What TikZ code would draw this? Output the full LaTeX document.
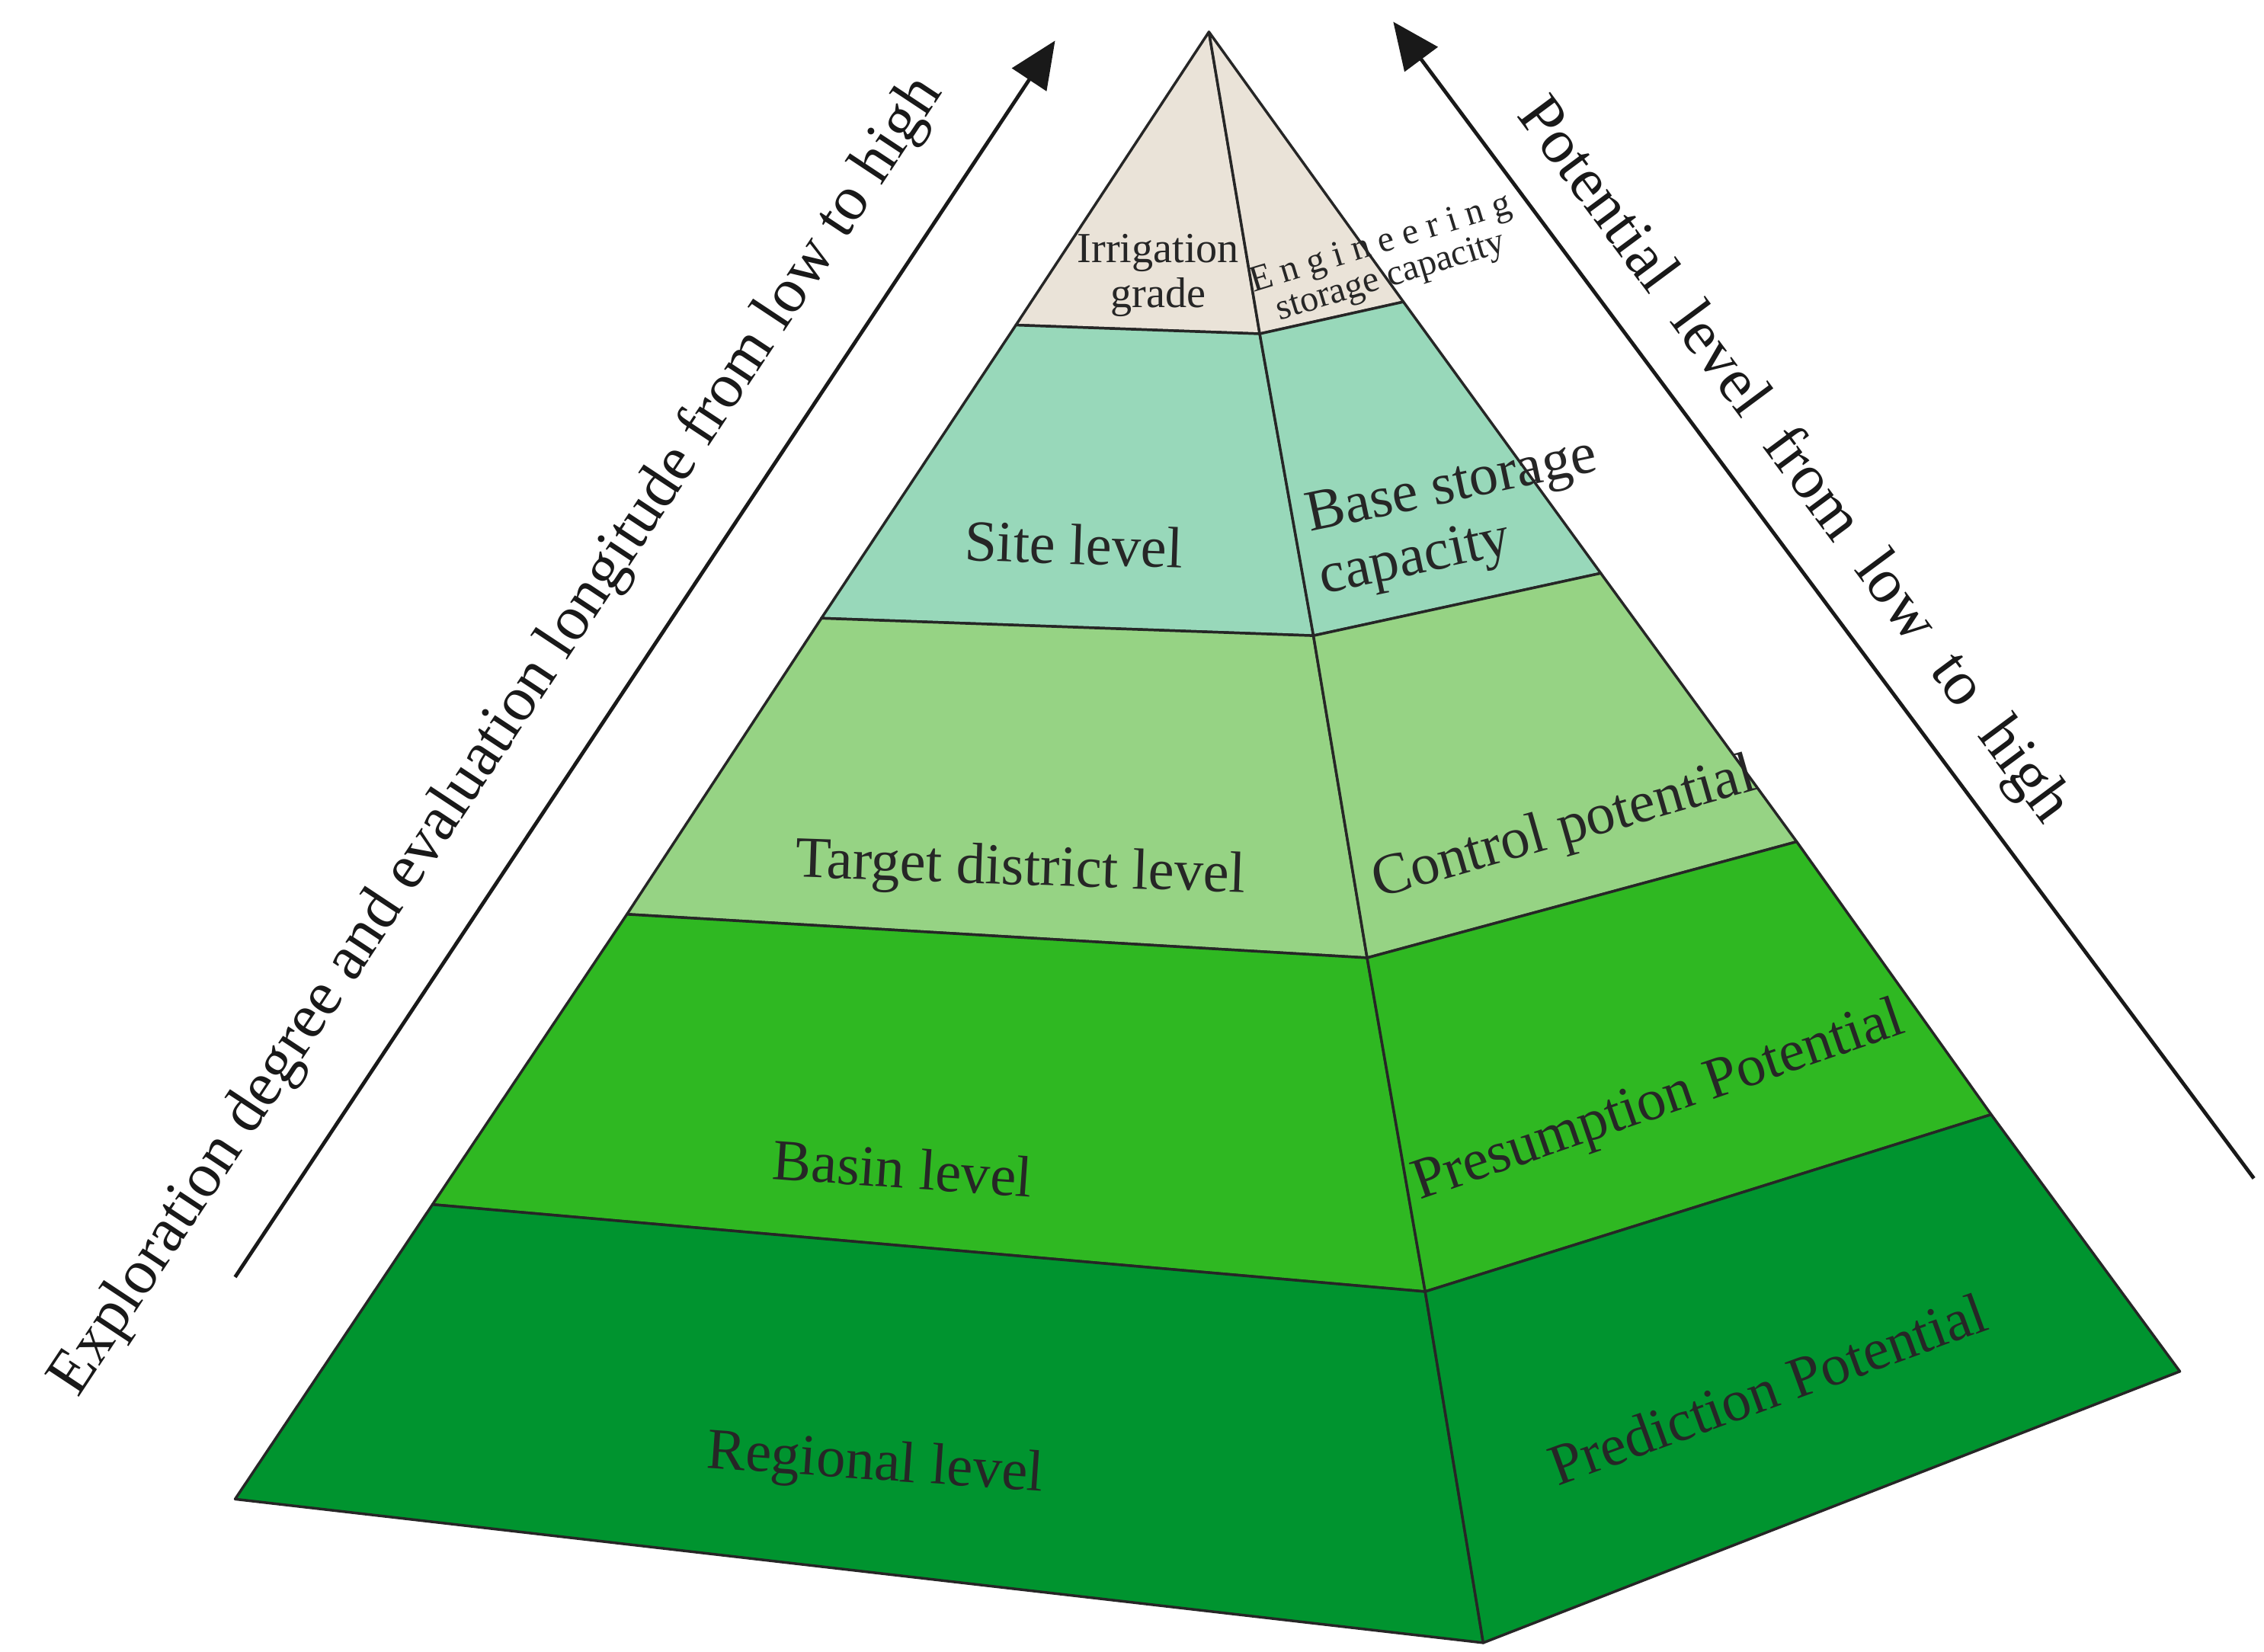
\documentclass[tikz,border=0pt]{standalone}
\usepackage{fontspec}
\setmainfont{Liberation Serif}
\usetikzlibrary{arrows.meta}
\begin{document}
\begin{tikzpicture}[x=0.05cm,y=-0.05cm,
 face/.style={draw=black!85,line width=2.6pt,line join=round},
 lab/.style={font=\fontsize{57}{62}\selectfont,text=black!85,align=center},
 sml/.style={font=\fontsize{42}{44}\selectfont,text=black!85,align=center},
 axis/.style={font=\fontsize{62}{66}\selectfont,text=black!90},
 arr/.style={line width=3.6pt,draw=black!90,-{Triangle[length=46pt,width=40pt]}}]
\useasboundingbox (0,0) rectangle (1560,1138);
\definecolor{c1}{HTML}{EAE3D8}\definecolor{c2}{HTML}{98D8BA}
\definecolor{c3}{HTML}{96D384}\definecolor{c4}{HTML}{2FB822}\definecolor{c5}{HTML}{00942F}
\coordinate (A) at (833,22);
\coordinate (l1) at (700,224);\coordinate (l2) at (566,426);\coordinate (l3) at (432,630);\coordinate (l4) at (298,830);\coordinate (l5) at (162,1033);
\coordinate (m1) at (868,230);\coordinate (m2) at (905,438);\coordinate (m3) at (942,660);\coordinate (m4) at (982,890);\coordinate (m5) at (1022,1132);
\coordinate (r1) at (967,208);\coordinate (r2) at (1103,395);\coordinate (r3) at (1238,580);\coordinate (r4) at (1372,768);\coordinate (r5) at (1502,945);
\filldraw[face,fill=c1] (A)--(l1)--(m1)--cycle; \filldraw[face,fill=c1] (A)--(m1)--(r1)--cycle;
\filldraw[face,fill=c2] (l1)--(l2)--(m2)--(m1)--cycle; \filldraw[face,fill=c2] (m1)--(m2)--(r2)--(r1)--cycle;
\filldraw[face,fill=c3] (l2)--(l3)--(m3)--(m2)--cycle; \filldraw[face,fill=c3] (m2)--(m3)--(r3)--(r2)--cycle;
\filldraw[face,fill=c4] (l3)--(l4)--(m4)--(m3)--cycle; \filldraw[face,fill=c4] (m3)--(m4)--(r4)--(r3)--cycle;
\filldraw[face,fill=c5] (l4)--(l5)--(m5)--(m4)--cycle; \filldraw[face,fill=c5] (m4)--(m5)--(r5)--(r4)--cycle;
\node[sml] (t1) at (798,190) {Irrigation\\grade};
\node[sml,rotate=17,font=\fontsize{36}{34}\selectfont] (t2) at (955,180) {E n g i n e e r i n g\\storage capacity};
\node[lab,rotate=-2] (t3) at (740,375) {Site level};
\node[lab,rotate=12,align=left] (t4) at (1005,358) {Base storage\\capacity};
\node[lab,rotate=-2] (t5) at (703,600) {Target district level};
\node[lab,rotate=16] (t6) at (1078,572) {Control potential};
\node[lab,rotate=-4] (t7) at (622,805) {Basin level};
\node[lab,rotate=19] (t8) at (1143,760) {Presumption Potential};
\node[lab,rotate=-4] (t9) at (603,1010) {Regional level};
\node[lab,rotate=20] (t10) at (1218,957) {Prediction Potential};
\coordinate (a1) at (162,880); \coordinate (a2) at (727,28);
\coordinate (b1) at (1553,812); \coordinate (b2) at (960,15);
\draw[arr] (a1)--(a2); \draw[arr] (b1)--(b2);
\node[axis,rotate=56.5] (ax1) at (343,508) {Exploration degree and evaluation longitude from low to high};
\node[axis,rotate=-53.4] (ax2) at (1235,318) {Potential\ \ level\ \ from\ \ low\ \ to\ \ high};
\end{tikzpicture}
\end{document}
